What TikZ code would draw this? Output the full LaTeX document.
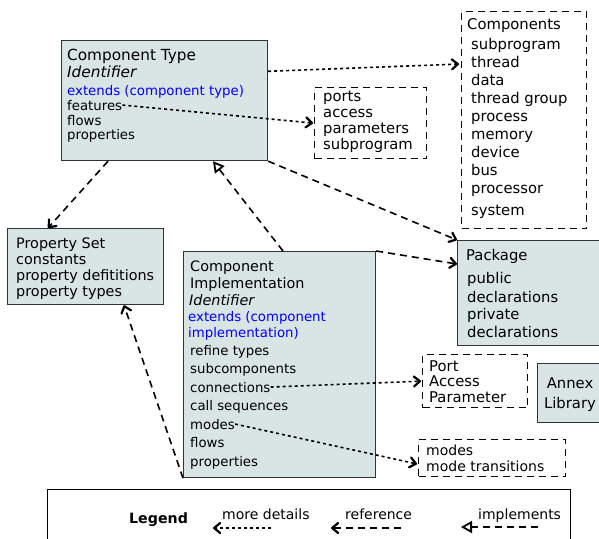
\documentclass[tikz,border=0pt]{standalone}
\usepackage{fontspec}
\setmainfont{DejaVu Sans}
\usetikzlibrary{arrows.meta}

\definecolor{boxfill}{HTML}{D9E4E4}
\definecolor{boxline}{HTML}{333333}

\begin{document}
\begin{tikzpicture}[x=1pt,y=-1pt,
	box/.style={draw=boxline,line width=1.2pt,fill=boxfill,anchor=north west,inner sep=0pt},
	dbox/.style={draw=black,line width=1.3pt,dash pattern=on 7pt off 5pt,anchor=north west,inner sep=0pt},
	big/.style={anchor=base west,inner sep=0pt,font=\fontsize{14.8}{17}\selectfont},
	small/.style={anchor=base west,inner sep=0pt,font=\fontsize{13.3}{15}\selectfont},
	detail/.style={line width=1.6pt,dash pattern=on 3pt off 3pt,-{Straight Barb[length=6pt,width=10pt,line width=2.2pt,round]}},
	refer/.style={line width=1.6pt,dash pattern=on 7pt off 5pt,-{Straight Barb[length=6pt,width=10pt,line width=2.2pt,round]}},
	impl/.style={line width=1.6pt,dash pattern=on 7pt off 5pt,-{Triangle[open,length=11pt,width=12pt,line width=1.8pt]}}
	]
			%\draw[help lines,step=20] (0,0) grid (599,538); %Hilfsgitter fuer Koordinaten
			\useasboundingbox (0,0) rectangle (599,538);
			\clip (0,0) rectangle (599,538);
			
			% component type
			\node[box,minimum width=206pt,minimum height=120pt] (ctype) at (61,40) {};
			\node[big,font=\fontsize{15.3}{17}\selectfont] (ctname) at (67,60) {Component Type};
			\node[big,font=\fontsize{15.3}{17}\selectfont\itshape] (ctid) at (67,77) {Identifier};
			\node[small,text=blue] (ctext) at (67,95) {extends (component type)};
			\node[small] (ctfeat) at (67,110) {features};
			\node[small] (ctflow) at (67,125) {flows};
			\node[small] (ctprop) at (67,139) {properties};
			
			% list of components
			\node[dbox,minimum width=125pt,minimum height=217pt] (comps) at (461,11) {};
			\node[big] (comptitle) at (467,29) {Components};
			\foreach \c [count=\i] in {subprogram,thread,data,thread group,process,memory,device,bus,processor}
				\node[big] (comp\i) at (471,31+18*\i) {\c};
			\node[big] (comp10) at (471,215) {system};
			
			% features
			\node[dbox,minimum width=112pt,minimum height=71pt] (featbox) at (314,87) {};
			\foreach \f [count=\i] in {ports,access,parameters,subprogram}
				\node[big] (feat\i) at (323,86+15.8*\i) {\f};
			
			% property set
			\node[box,minimum width=156pt,minimum height=76pt] (pset) at (7,228) {};
			\node[big,font=\fontsize{14.4}{17}\selectfont] (psname) at (16,248) {Property Set};
			\node[big,font=\fontsize{14.4}{17}\selectfont] (psconst) at (16,264) {constants};
			\node[big,font=\fontsize{14.4}{17}\selectfont] (psdef) at (16,280) {property defititions};
			\node[big,font=\fontsize{14.4}{17}\selectfont] (pstype) at (16,296) {property types};
			
			% component implementation
			\node[box,minimum width=192pt,minimum height=226pt] (cimpl) at (183,251) {};
			\node[big,font=\fontsize{14.4}{17}\selectfont] (ciname) at (190,271) {Component};
			\node[big,font=\fontsize{14.4}{17}\selectfont] (ciname2) at (190,288) {Implementation};
			\node[big,font=\fontsize{14.4}{17}\selectfont\itshape] (ciid) at (189,305) {Identifier};
			\node[small,text=blue] (ciext) at (188,321) {extends (component};
			\node[small,text=blue] (ciext2) at (188,337) {implementation)};
			\foreach \s/\n [count=\i] in {refine types/refine,subcomponents/subc,connections/conn,call sequences/calls,modes/modes,flows/flows,properties/props}
				\node[small] (ci\n) at (190,336.5+18.5*\i) {\s};
			
			% package
			\node[box,minimum width=150pt,minimum height=105pt] (pkg) at (457,240) {};
			\node[big] (pkgname) at (466,260) {Package};
			\node[big] (pkgpub) at (467,283) {public};
			\node[big] (pkgdecl) at (467,302) {declarations};
			\node[big] (pkgpriv) at (467,319) {private};
			\node[big] (pkgdecl2) at (467,337) {declarations};
			
			% connection kinds
			\node[dbox,minimum width=105pt,minimum height=53pt] (connbox) at (422,354) {};
			\node[big] (cport) at (429,371) {Port};
			\node[big] (caccess) at (429,386) {Access};
			\node[big] (cparam) at (429,402) {Parameter};
			
			% annex library
			\node[box,minimum width=70pt,minimum height=59pt] (annex) at (537,363) {};
			\node[big,anchor=base] (annexa) at (570,388) {Annex};
			\node[big,anchor=base] (annexl) at (570,408) {Library};
			
			% modes
			\node[dbox,minimum width=147pt,minimum height=37pt] (modebox) at (418,439) {};
			\node[big,font=\fontsize{14}{17}\selectfont] (mmodes) at (426,455) {modes};
			\node[big,font=\fontsize{14}{17}\selectfont] (mtrans) at (426,471) {mode transitions};
			
			% legend
			\node[draw,line width=1.2pt,minimum width=523pt,minimum height=60pt,anchor=north west,inner sep=0pt] (legend) at (47,489) {};
			\node[big,font=\fontsize{14.2}{17}\selectfont\bfseries] (legtitle) at (129,523) {Legend};
			\node[big,font=\fontsize{14}{17}\selectfont] (legdet) at (222,519) {more details};
			\node[big,font=\fontsize{14}{17}\selectfont] (legref) at (345,519) {reference};
			\node[big,font=\fontsize{14}{17}\selectfont] (legimpl) at (478,519) {implements};
			\coordinate (ld1) at (271,528);
			\coordinate (ld2) at (213,528);
			\coordinate (lr1) at (401,528);
			\coordinate (lr2) at (331,528);
			\coordinate (li1) at (538,527);
			\coordinate (li2) at (461,527);
			\draw[detail] (ld1) -- (ld2);
			\draw[refer] (lr1) -- (lr2);
			\draw[impl] (li1) -- (li2);
			
			% connectors
			\draw[detail,shorten >=2pt] (ctype.east |- ctid.center) -- ([yshift=-53pt]comps.north west); % to components
			\draw[detail,shorten >=1pt] (ctfeat.east) -- (featbox.west); % features
			\draw[refer] ([xshift=47pt]ctype.south west) -- ([xshift=41pt]pset.north west); % property set
			\draw[refer] (ctype.south east) -- (pkg.north west); % package
			\draw[impl] ([xshift=100pt]cimpl.north west) -- ([xshift=152pt]ctype.south west); % implements
			\draw[refer] (cimpl.north east) -- ([yshift=-24pt]pkg.north west); % package
			\draw[refer] (cimpl.south west) -- ([xshift=117pt]pset.south west); % property set
			\draw[detail,shorten >=1pt] (ciconn.east) -- (connbox.west); % connections
			\draw[detail,shorten >=1pt] (cimodes.east) -- ([yshift=-6pt]modebox.west); % modes
			
\end{tikzpicture}
\end{document}
